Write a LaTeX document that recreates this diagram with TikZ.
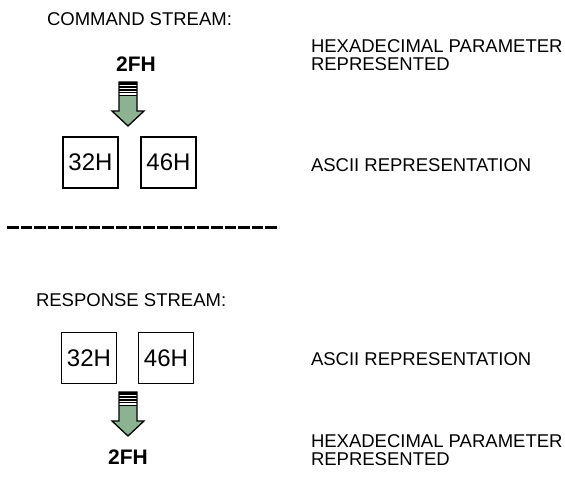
\documentclass[tikz,border=0pt]{standalone}
\usepackage{fontspec}
\setmainfont{Liberation Sans}
\usepackage{tikz}
\definecolor{arrowgreen}{HTML}{8DB291}

% striped block arrow, #1 = top centre of the stripes
\newcommand\stripedarrow[1]{%
  \begin{scope}[shift={(#1)}]
    \fill[arrowgreen] (-9,0) -- (9,0) -- (9,29) -- (16,29) -- (0,44)
      -- (-16,29) -- (-9,29) -- cycle;
    \fill[white] (-9,0) rectangle (9,13);
    \foreach \ya/\yb in {0/2.6, 3.6/5.6, 6.6/8.6, 10.2/11.2, 13.4/14.2}
      \fill[black] (-9,\ya) rectangle (9,\yb);
    \draw[line width=1.3pt, line join=miter] (-9,0) -- (9,0) -- (9,29)
      -- (16,29) -- (0,44) -- (-16,29) -- (-9,29) -- cycle;
  \end{scope}}

\begin{document}
\begin{tikzpicture}[x=1pt, y=-1pt,
every node/.style = {inner sep=0pt, outer sep=0pt},
streamtext/.style = {anchor=base west, align=left,
  font=\fontsize{18.5}{17.5}\selectfont},
hexvalue/.style = {font=\fontsize{21}{21}\selectfont\bfseries},
hexbox/.style = {draw, line width=1.4pt, minimum width=55pt,
  minimum height=51pt, font=\fontsize{24}{24}\selectfont}
]
\useasboundingbox (0,0) rectangle (565,488);

% command stream
\node[streamtext] (cmdtitle) at (47,25) {COMMAND STREAM:};
\node[hexvalue] (cmdhex) at (136,64.5) {2FH};
\coordinate (cmdarrow) at (128,82);
\stripedarrow{cmdarrow}
\node[hexbox] (cmdA) at (90.5,162.5) {32H};
\node[hexbox] (cmdB) at (168.5,162.5) {46H};
\node[streamtext] (cmdhexnote) at (311,70) {HEXADECIMAL PARAMETER\\REPRESENTED};
\node[streamtext] (cmdasciinote) at (311,171) {ASCII REPRESENTATION};

% separator
\coordinate (dashL) at (7,227);
\coordinate (dashR) at (279,227);
\draw[line width=3pt, dash pattern=on 11.6pt off 2pt] (dashL) -- (dashR);

% response stream
\node[streamtext] (resptitle) at (36,306) {RESPONSE STREAM:};
\node[hexbox] (respA) at (89,358) {32H};
\node[hexbox] (respB) at (166,358) {46H};
\coordinate (resparrow) at (128,392);
\stripedarrow{resparrow}
\node[hexvalue] (resphex) at (128,457.5) {2FH};
\node[streamtext] (respasciinote) at (311,365) {ASCII REPRESENTATION};
\node[streamtext] (resphexnote) at (311,465) {HEXADECIMAL PARAMETER\\REPRESENTED};

\end{tikzpicture}
\end{document}
